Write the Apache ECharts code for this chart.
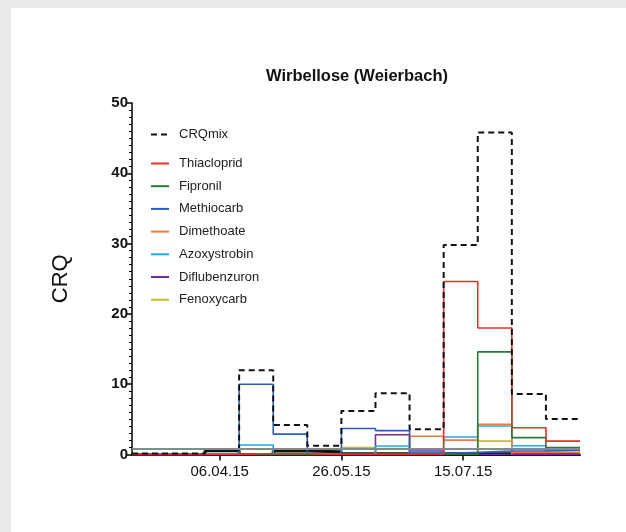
<!DOCTYPE html>
<html>
<head>
<meta charset="utf-8">
<script src="https://cdn.jsdelivr.net/npm/echarts@6/dist/echarts.min.js"></script>
<style>
html,body{margin:0;padding:0;background:#eaeaec;}
#panel{position:absolute;left:11px;top:8px;width:615px;height:524px;background:#fff;}
#c{position:absolute;left:0;top:0;width:626px;height:532px;}
</style>
</head>
<body>
<div id="panel"></div>
<div id="c"></div>
<script>
// Sampling dates (start of each 14-day interval) and end date
var dates = ['2015-03-01','2015-03-17','2015-03-31','2015-04-14','2015-04-28','2015-05-12','2015-05-26','2015-06-09','2015-06-23','2015-07-07','2015-07-21','2015-08-04','2015-08-18'];
var endDate = '2015-09-01';
var axisStart = '2015-03-01';
var tickLabels = ['06.04.15','26.05.15','15.07.15'];

var crqMix       = [0.15,0.15,0.6,12.0,4.2,1.25,6.2,8.7,3.6,29.8,45.8,8.6,5.05];
var thiacloprid  = [0,0,0,0.15,0.1,0,0,0,0,24.6,18.0,3.8,1.9];
var fipronil     = [0,0,0,0,0,0,0,0,0,0,14.6,2.4,1.0];
var methiocarb   = [0,0,0,10.0,2.9,0,3.7,3.4,0.15,0.3,0.5,0.5,0.6];
var dimethoate   = [0,0,0,0,0,0,0,0,2.6,2.05,4.3,0.3,0.3];
var azoxystrobin = [0,0,0,1.35,0,0,0,1.2,0.2,2.5,4.05,1.25,0.6];
var diflubenzuron= [0,0,0,0,0,0,0,2.8,0.5,0,0,0,0];
var fenoxycarb   = [0,0,0,0,0,0,1.0,0,0,0,1.9,0,0];
var others       = [0,0,0.55,0,0.5,0.4,0.1,0.1,0.1,0.1,0.1,0.1,0.1];
var threshold = 0.8;

// day numbers (UTC) used as x values on a value axis
function ts(s){var p=s.split('-');return Date.UTC(+p[0],+p[1]-1,+p[2])/86400000;}
function tsLabel(s){var p=s.split('.');return Date.UTC(2000+ +p[2],+p[1]-1,+p[0])/86400000;}
function pad(n){return (n<10?'0':'')+n;}
function fmt(v){var d=new Date(Math.round(v)*86400000);return pad(d.getUTCDate())+'.'+pad(d.getUTCMonth()+1)+'.'+String(d.getUTCFullYear()).slice(2);}
function toData(vals){
  var out = vals.map(function(v,i){return [ts(dates[i]),v];});
  out.push([ts(endDate), vals[vals.length-1]]);
  return out;
}
var tickVals = tickLabels.map(tsLabel);

function mk(name,vals,color,extra){
  var s = {name:name,type:'line',step:'end',data:toData(vals),symbol:'none',showSymbol:false,
    lineStyle:{color:color,width:1.6},itemStyle:{color:color},emphasis:{disabled:true},animation:false};
  if(extra){for(var k in extra){s[k]=extra[k];}}
  return s;
}
var font = 'Liberation Sans, Arial, sans-serif';
var legendText = {fontFamily:font,fontSize:13,color:'#222',padding:[0,0,0,5]};
var chart = echarts.init(document.getElementById('c'),null,{renderer:'canvas'});
chart.setOption({
  backgroundColor:'transparent',
  animation:false,
  title:{text:'Wirbellose (Weierbach)',left:352,textAlign:'center',top:63,
    textStyle:{fontFamily:font,fontSize:16.5,fontWeight:'bold',color:'#111'}},
  legend:[{
    data:['CRQmix'],left:145,top:123,orient:'vertical',itemWidth:18,itemHeight:14,
    itemStyle:{opacity:0},textStyle:legendText
  },{
    data:['Thiacloprid','Fipronil','Methiocarb','Dimethoate','Azoxystrobin','Diflubenzuron','Fenoxycarb'],
    left:145,top:152,orient:'vertical',itemWidth:18,itemHeight:14,itemGap:9.7,
    itemStyle:{opacity:0},textStyle:legendText
  }],
  grid:{left:132,right:46,top:103,bottom:77.5,containLabel:false},
  xAxis:{type:'value',min:ts(axisStart),max:ts(endDate),
    axisLine:{show:true,lineStyle:{color:'#000',width:2}},
    axisTick:{show:true,customValues:tickVals,length:6,lineStyle:{color:'#000',width:1.5}},
    axisLabel:{customValues:tickVals,formatter:function(v){return fmt(v);},fontFamily:font,fontSize:15,color:'#111',margin:10},
    splitLine:{show:false},minorTick:{show:false}},
  yAxis:{type:'value',min:0,max:50,interval:10,
    name:'CRQ',nameLocation:'middle',nameGap:60,
    nameTextStyle:{fontFamily:font,fontSize:22,color:'#111'},
    axisLine:{show:true,lineStyle:{color:'#000',width:1.5}},
    axisTick:{show:true,length:5,lineStyle:{color:'#000',width:1.5}},
    minorTick:{show:true,splitNumber:10,length:3,lineStyle:{color:'#000',width:1}},
    axisLabel:{fontFamily:font,fontSize:15,fontWeight:'bold',color:'#111',margin:4},
    splitLine:{show:false}},
  series:[
    mk('Sonstige',others,'#111',{lineStyle:{color:'#111',width:3},
      markLine:{silent:true,symbol:['none','none'],label:{show:false},
        lineStyle:{color:'#888',width:2,type:'solid'},data:[{yAxis:threshold}]}}),
    mk('Fenoxycarb',fenoxycarb,'#c8bd1e'),
    mk('Diflubenzuron',diflubenzuron,'#7b2a98'),
    mk('Azoxystrobin',azoxystrobin,'#2aa6e6'),
    mk('Dimethoate',dimethoate,'#f07a3a'),
    mk('Methiocarb',methiocarb,'#2a5ec4'),
    mk('Fipronil',fipronil,'#267a3a'),
    mk('Thiacloprid',thiacloprid,'#e3322b'),
    mk('CRQmix',crqMix,'#111',{lineStyle:{color:'#111',width:2,type:[6,4]}})
  ]
});
</script>
</body>
</html>
